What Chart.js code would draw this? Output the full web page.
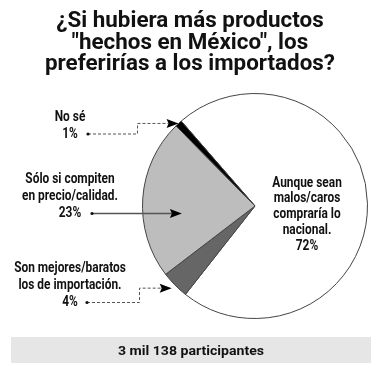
<!DOCTYPE html>
<html><head><meta charset="utf-8">
<script src="https://cdn.jsdelivr.net/npm/chart.js@4/dist/chart.umd.min.js"></script>
<style>html,body{margin:0;padding:0;background:#fff;overflow:hidden}</style>
</head><body>
<canvas id="c" width="380" height="382"></canvas>
<script>
// ---- data ----
const titleLines = ['¿Si hubiera más productos', '"hechos en México", los', 'preferirías a los importados?'];
const categories = ['Aunque sean malos/caros compraría lo nacional.', 'Son mejores/baratos los de importación.', 'Sólo si compiten en precio/calidad.', 'No sé'];
const values = [72, 4, 23, 1];
const sliceColors = ['#ffffff', '#666666', '#bdbdbd', '#000000'];
const insideLabelLines = ['Aunque sean', 'malos/caros', 'compraría lo', 'nacional.', '72%'];
const labelNoSe = ['No sé', '1%'];
const labelSolo = ['Sólo si compiten', 'en precio/calidad.', '23%'];
const labelSon = ['Son mejores/baratos', 'los de importación.', '4%'];
const footerText = '3 mil 138 participantes';

// ---- font helpers ----
const mctx = document.createElement('canvas').getContext('2d');
const TITLE_FAMILY = 'Roboto, "Liberation Sans", sans-serif';
const TITLE_SIZE = 21.5;
mctx.font = 'bold ' + TITLE_SIZE + 'px ' + TITLE_FAMILY;
const titleScale = 290 / mctx.measureText(titleLines[2]).width;

const LABEL_FAMILY = 'Roboto, "Liberation Sans", sans-serif';
const LABEL_SIZE = 14;
const LABEL_WEIGHT = 'bold';
mctx.font = LABEL_WEIGHT + ' ' + LABEL_SIZE + 'px ' + LABEL_FAMILY;
const labelScale = 96 / mctx.measureText('en precio/calidad.').width;

const FOOT_SIZE = 13.5;
mctx.font = 'bold ' + FOOT_SIZE + 'px ' + TITLE_FAMILY;
const footScale = 146 / mctx.measureText(footerText).width;

function drawScaled(ctx, text, x, y, sx) {
  ctx.save();
  ctx.translate(x, y);
  ctx.scale(sx, 1);
  ctx.fillText(text, 0, 0);
  ctx.restore();
}
function drawCondensed(ctx, lines, cx, y0, step) {
  ctx.save();
  ctx.font = LABEL_WEIGHT + ' ' + LABEL_SIZE + 'px ' + LABEL_FAMILY;
  ctx.fillStyle = '#111';
  ctx.textAlign = 'center';
  ctx.textBaseline = 'middle';
  lines.forEach((t, i) => drawScaled(ctx, t, cx, y0 + i * step, labelScale));
  ctx.restore();
}
function arrowHead(ctx, tx, ty, len, half) {
  ctx.beginPath();
  ctx.moveTo(tx, ty);
  ctx.lineTo(tx - len, ty - half);
  ctx.lineTo(tx - len + 2, ty);
  ctx.lineTo(tx - len, ty + half);
  ctx.closePath();
  ctx.fillStyle = '#000';
  ctx.fill();
}
function dot(ctx, x, y) {
  ctx.beginPath();
  ctx.arc(x, y, 1.6, 0, Math.PI * 2);
  ctx.fillStyle = '#111';
  ctx.fill();
}
function polar(arc, frac, rf) {
  const a = arc.startAngle + (arc.endAngle - arc.startAngle) * frac;
  return { x: arc.x + Math.cos(a) * arc.outerRadius * rf, y: arc.y + Math.sin(a) * arc.outerRadius * rf };
}

const annotations = {
  id: 'annotations',
  afterDraw(chart) {
    const ctx = chart.ctx;
    const arcs = chart.getDatasetMeta(0).data;

    // title
    ctx.save();
    ctx.font = 'bold ' + TITLE_SIZE + 'px ' + TITLE_FAMILY;
    ctx.fillStyle = '#111';
    ctx.textAlign = 'center';
    ctx.textBaseline = 'alphabetic';
    titleLines.forEach((t, i) => drawScaled(ctx, t, 190, 27 + i * 21.6, titleScale));
    ctx.restore();

    // side labels
    drawCondensed(ctx, labelNoSe, 70, 117, 17);
    drawCondensed(ctx, labelSolo, 70, 179, 17);
    drawCondensed(ctx, labelSon, 70, 268, 17);
    // inside label
    drawCondensed(ctx, insideLabelLines, 307, 183, 15.8);

    // connector: No sé -> black slice
    const t1 = polar(arcs[3], 0.5, 1.0);
    ctx.save();
    ctx.strokeStyle = '#555';
    ctx.lineWidth = 1;
    ctx.setLineDash([3, 2]);
    ctx.beginPath();
    ctx.moveTo(88, 134);
    ctx.lineTo(137.5, 134);
    ctx.lineTo(137.5, t1.y);
    ctx.lineTo(t1.x - 10, t1.y);
    ctx.stroke();
    // connector: 4% -> dark slice
    const t3 = polar(arcs[1], 0.5, 1.04);
    ctx.beginPath();
    ctx.moveTo(87, 302.5);
    ctx.lineTo(139.5, 302.5);
    ctx.lineTo(139.5, t3.y);
    ctx.lineTo(t3.x - 10, t3.y);
    ctx.stroke();
    ctx.restore();
    arrowHead(ctx, t1.x, t1.y, 12, 4.5);
    arrowHead(ctx, t3.x, t3.y, 12, 4.5);
    dot(ctx, 88, 134);
    dot(ctx, 87, 302.5);

    // connector: 23% -> light slice (solid)
    const arc2 = arcs[2];
    const tx = arc2.x - arc2.outerRadius * 0.65;
    ctx.save();
    ctx.strokeStyle = '#555';
    ctx.lineWidth = 1.5;
    ctx.beginPath();
    ctx.moveTo(92, 213.5);
    ctx.lineTo(tx - 10, 213.5);
    ctx.stroke();
    ctx.restore();
    arrowHead(ctx, tx, 213.5, 12, 4.5);
    dot(ctx, 92, 213.5);

    // footer
    ctx.save();
    ctx.fillStyle = '#e6e6e6';
    ctx.fillRect(11, 337, 360, 26);
    ctx.font = 'bold ' + FOOT_SIZE + 'px ' + TITLE_FAMILY;
    ctx.fillStyle = '#111';
    ctx.textAlign = 'center';
    ctx.textBaseline = 'middle';
    drawScaled(ctx, footerText, 191, 351.5, footScale);
    ctx.restore();
  }
};

new Chart(document.getElementById('c'), {
  type: 'pie',
  data: {
    labels: categories,
    datasets: [{
      data: values,
      backgroundColor: sliceColors,
      borderColor: '#444',
      borderWidth: 1,
      hoverOffset: 0
    }]
  },
  options: {
    responsive: false,
    animation: false,
    devicePixelRatio: 1,
    rotation: -41,
    layout: { padding: { left: 142, right: 12, top: 93, bottom: 63 } },
    plugins: {
      legend: { display: false },
      tooltip: { enabled: false },
      title: { display: false }
    }
  },
  plugins: [annotations]
});
</script>
</body></html>
